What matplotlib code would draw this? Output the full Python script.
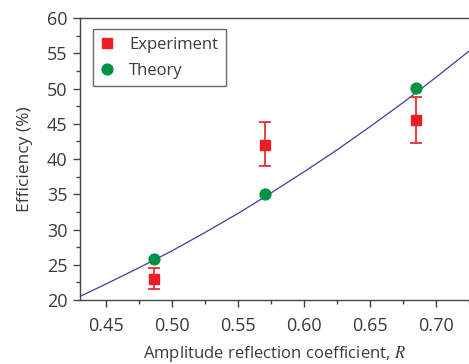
import matplotlib
matplotlib.use("Agg")
import matplotlib.pyplot as plt

# Values
theory_r = [0.486, 0.570, 0.685]
theory_eff = [25.8, 35.0, 50.1]

exp_r = [0.486, 0.570, 0.685]
exp_eff = [23.0, 42.0, 45.5]
exp_err_low = [1.5, 3.0, 3.2]
exp_err_high = [1.6, 3.2, 3.3]

curve_r = [0.43, 0.45, 0.475, 0.50, 0.525, 0.55, 0.575, 0.60, 0.625, 0.65, 0.675, 0.70, 0.725]
curve_eff = [20.5, 22.3, 24.6, 27.0, 29.6, 32.3, 35.2, 38.2, 41.3, 44.6, 48.0, 51.6, 55.3]

x_ticks = [0.45, 0.50, 0.55, 0.60, 0.65, 0.70]
y_ticks = [20, 25, 30, 35, 40, 45, 50, 55, 60]

plt.rcParams['font.family'] = ['Open Sans', 'DejaVu Sans']
plt.rcParams['mathtext.fontset'] = 'stix'
text_color = '#3a3a3a'

fig = plt.figure(figsize=(4.69, 3.64), dpi=100)
ax = fig.add_axes([0.1706, 0.1758, 0.8294, 0.7747])

ax.plot(curve_r, curve_eff, color='#3b3f9a', lw=0.9, zorder=1)
ax.errorbar(exp_r, exp_eff, yerr=[exp_err_low, exp_err_high], fmt='none',
            ecolor='#ee1c25', elinewidth=1.2, capsize=4, capthick=1.2, zorder=2)
ax.plot(exp_r, exp_eff, 's', color='#ee1c25', ms=6.8, label='Experiment', zorder=3)
ax.plot(theory_r, theory_eff, 'o', color='#009245', ms=7.8, label='Theory', zorder=4)

ax.set_xlim(0.43, 0.725)
ax.set_ylim(20, 60)
ax.set_xticks(x_ticks)
ax.set_xticklabels([f'{v:.2f}' for v in x_ticks])
ax.set_yticks(y_ticks)
ax.set_xticks([0.475, 0.525, 0.575, 0.625, 0.675, 0.725], minor=True)
ax.set_yticks([22.5, 27.5, 32.5, 37.5, 42.5, 47.5, 52.5, 57.5], minor=True)

for side in ['left', 'bottom', 'top']:
    ax.spines[side].set_color('#444444')
    ax.spines[side].set_linewidth(1.0)
ax.spines['right'].set_visible(False)

ax.tick_params(which='major', direction='out', length=5, width=1.0,
               colors='#444444', labelcolor=text_color, labelsize=13)
ax.tick_params(which='minor', direction='out', length=3, width=1.0, colors='#444444')
ax.tick_params(axis='x', pad=7)
ax.tick_params(axis='y', pad=4)

ax.set_xlabel(r'Amplitude reflection coefficient, $R$', fontsize=12, color=text_color, labelpad=7)
ax.set_ylabel('Efficiency (%)', fontsize=12.5, color=text_color, labelpad=10)

leg = ax.legend(loc='upper left', bbox_to_anchor=(0.034, 0.96), fontsize=12,
                frameon=True, fancybox=False, handletextpad=0.9, borderpad=0.45,
                labelspacing=0.6, handlelength=0.8, borderaxespad=0)
leg.get_frame().set_edgecolor('#444444')
leg.get_frame().set_linewidth(1.0)
for t in leg.get_texts():
    t.set_color(text_color)

fig.savefig('out.png', dpi=100)
